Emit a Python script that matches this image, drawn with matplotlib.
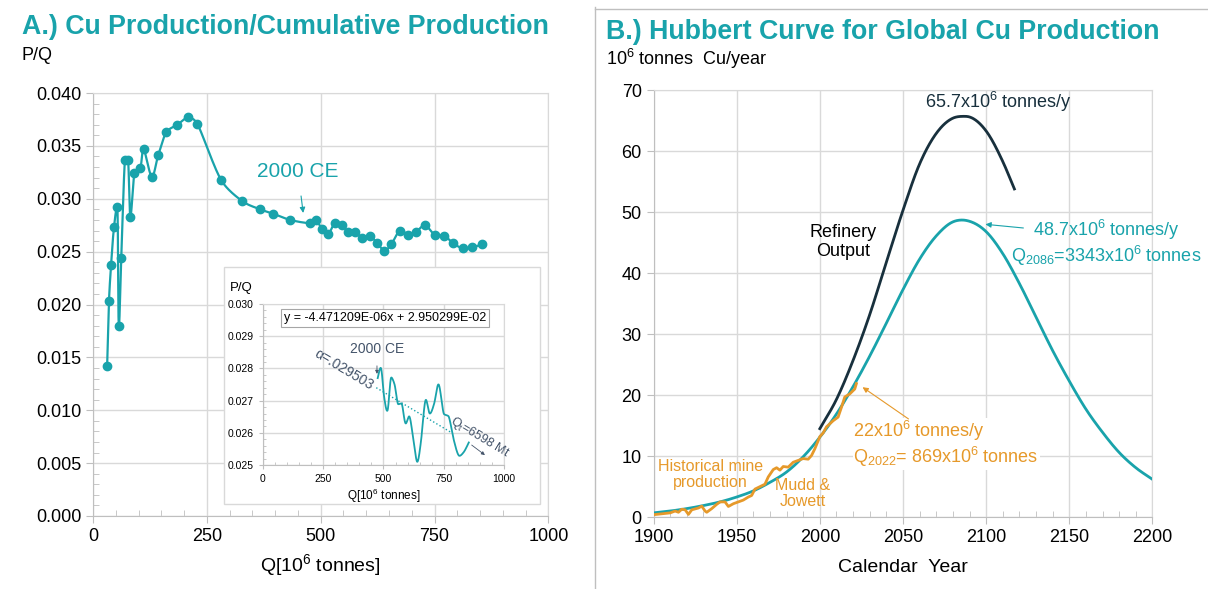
import numpy as np
import matplotlib
matplotlib.use('Agg')
import matplotlib.pyplot as plt
from matplotlib.lines import Line2D
from matplotlib.patches import Rectangle

plt.rcParams['font.family'] = ['Liberation Sans', 'DejaVu Sans']
plt.rcParams['mathtext.fontset'] = 'custom'
plt.rcParams['mathtext.rm'] = 'Liberation Sans'
plt.rcParams['mathtext.it'] = 'Liberation Sans:italic'
plt.rcParams['mathtext.bf'] = 'Liberation Sans:bold'

# --- data: panel A (P/Q vs cumulative Q) ---
q_cum = [31, 35, 39.6, 46, 53.5, 56.5, 62, 70, 77, 82, 91, 104, 111, 129, 143,
         161, 185, 209, 229, 281, 327, 367, 395, 433, 476, 490, 503, 517, 531, 546,
         560, 576, 591, 608, 624, 640, 655, 674, 692, 710, 729, 750, 771, 791, 812,
         833, 854]
p_over_q = [0.0142, 0.0203, 0.0237, 0.0273, 0.0292, 0.0180, 0.0244, 0.0337, 0.0337,
            0.0283, 0.0324, 0.0329, 0.0347, 0.0321, 0.0341, 0.0363, 0.0370, 0.0377,
            0.0371, 0.0318, 0.0298, 0.0290, 0.0286, 0.0280, 0.0277, 0.0280, 0.0271,
            0.0267, 0.0277, 0.0275, 0.0269, 0.0269, 0.0263, 0.0265, 0.0258, 0.0251,
            0.0257, 0.0270, 0.0266, 0.0269, 0.0275, 0.0266, 0.0265, 0.0258, 0.0253,
            0.0254, 0.0257]
inset_start_q = 476
trend_slope = -4.471209e-06
trend_icpt = 2.950299e-02
trend_q = [470, 780]

# --- data: panel B (Hubbert curve) ---
hub_years = [1900, 1910, 1920, 1930, 1940, 1950, 1960, 1970, 1980, 1990, 2000, 2010,
             2020, 2030, 2040, 2050, 2060, 2070, 2080, 2086, 2090, 2100, 2110, 2120,
             2130, 2140, 2150, 2160, 2170, 2180, 2190, 2200]
hub_vals = [0.7, 1.0, 1.4, 1.9, 2.5, 3.3, 4.3, 5.7, 7.4, 9.9, 13.1, 16.9, 21.4, 26.4,
            31.8, 37.3, 42.3, 46.1, 48.4, 48.7, 48.5, 46.8, 43.2, 38.3, 32.8, 27.3,
            22.3, 17.7, 13.9, 10.6, 8.1, 6.2]
ref_years = [2000, 2010, 2020, 2030, 2040, 2050, 2060, 2070, 2080, 2086, 2090, 2100,
             2110, 2117]
ref_vals = [14.5, 19.3, 25.7, 33.2, 41.8, 50.3, 57.9, 62.9, 65.4, 65.7, 65.6, 63.3,
            58.3, 53.8]
mine_years = [1900, 1905, 1910, 1913, 1915, 1917, 1919, 1921, 1923, 1927, 1929, 1931,
              1932, 1935, 1938, 1940, 1943, 1945, 1948, 1951, 1954, 1957, 1959, 1961,
              1964, 1967, 1969, 1972, 1974, 1976, 1978, 1981, 1984, 1987, 1990, 1993,
              1995, 1997, 2000, 2002, 2004, 2006, 2008, 2011, 2013, 2015, 2018, 2021,
              2022]
mine_vals = [0.4, 0.55, 0.7, 1.0, 0.8, 1.3, 1.2, 0.45, 1.2, 1.5, 1.8, 1.0, 0.8, 1.4,
             2.1, 2.5, 2.5, 1.75, 2.2, 2.5, 2.8, 3.3, 3.55, 4.6, 5.0, 5.4, 6.6, 7.8,
             8.1, 7.7, 8.3, 8.2, 9.0, 9.3, 9.6, 9.5, 10.1, 11.2, 13.2, 13.8, 14.8, 15.3,
             15.8, 16.4, 18.0, 19.7, 20.2, 21.0, 21.9]

TEAL = '#19A3AB'
NAVY = '#18303D'
ORANGE = '#E6992A'
SLATE = '#44546A'
GRID = '#D9D9D9'
AXC = '#BFBFBF'


def smooth(x, y, sx=1.0, sy=1.0, n=20):
    # excel-like smoothed line: bezier through points, control arms clamped
    p = np.column_stack([np.asarray(x, float) * sx, np.asarray(y, float) * sy])
    p = np.vstack([p[0], p, p[-1]])
    t = np.linspace(0, 1, n, endpoint=False)[:, None]
    segs = []
    for i in range(1, len(p) - 2):
        p0, p1, p2, p3 = p[i - 1], p[i], p[i + 1], p[i + 2]
        seg = np.hypot(*(p2 - p1))
        d1 = (p2 - p0) / 6
        d2 = (p3 - p1) / 6
        for d in (d1, d2):
            ln = np.hypot(*d)
            if ln > 0.35 * seg:
                d *= 0.35 * seg / ln
        c1 = p1 + d1
        c2 = p2 - d2
        segs.append((1 - t) ** 3 * p1 + 3 * (1 - t) ** 2 * t * c1
                    + 3 * (1 - t) * t ** 2 * c2 + t ** 3 * p2)
    segs.append(p[-2][None, :])
    s = np.vstack(segs)
    return s[:, 0] / sx, s[:, 1] / sy


def hermite(x, y, n=30):
    # smooth curve for series with increasing x
    x = np.asarray(x, float)
    y = np.asarray(y, float)
    m = np.gradient(y, x)
    xs, ys = [], []
    for i in range(len(x) - 1):
        h = x[i + 1] - x[i]
        t = np.linspace(0, 1, n, endpoint=False)
        h00 = 2 * t ** 3 - 3 * t ** 2 + 1
        h10 = t ** 3 - 2 * t ** 2 + t
        h01 = -2 * t ** 3 + 3 * t ** 2
        h11 = t ** 3 - t ** 2
        xs.append(x[i] + t * h)
        ys.append(h00 * y[i] + h10 * h * m[i] + h01 * y[i + 1] + h11 * h * m[i + 1])
    xs.append([x[-1]])
    ys.append([y[-1]])
    return np.concatenate(xs), np.concatenate(ys)


def style_axes(ax, fs=13):
    for side in ['top', 'right']:
        ax.spines[side].set_color(GRID)
    for side in ['left', 'bottom']:
        ax.spines[side].set_color(AXC)
    ax.grid(True, color=GRID, lw=1)
    ax.set_axisbelow(True)
    ax.tick_params(which='major', direction='out', color=AXC, length=5,
                   labelsize=fs, labelcolor='black')
    ax.tick_params(which='minor', direction='in', color=AXC, length=4)


fig = plt.figure(figsize=(12.08, 5.89), dpi=100)

# ---------------- panel A ----------------
ax1 = fig.add_axes([0.077, 0.124, 0.377, 0.718])
sx, sy = smooth(q_cum, p_over_q, sx=455 / 1000, sy=423 / 0.04)
ax1.plot(sx, sy, color=TEAL, lw=1.6, zorder=3)
ax1.plot(q_cum, p_over_q, 'o', color=TEAL, ms=6, zorder=4)
ax1.set_xlim(0, 1000)
ax1.set_ylim(0, 0.040)
ax1.set_xticks([0, 250, 500, 750, 1000])
ax1.set_yticks(np.arange(0, 0.0401, 0.005))
ax1.set_yticklabels([f'{v:.3f}' for v in np.arange(0, 0.0401, 0.005)])
ax1.set_xticks(np.arange(0, 1001, 50), minor=True)
ax1.set_yticks(np.arange(0, 0.0401, 0.001), minor=True)
style_axes(ax1)
ax1.annotate('2000 CE', xy=(461.5, 0.02866), xytext=(450, 0.0326),
             fontsize=15, color=TEAL, ha='center', va='center',
             arrowprops=dict(arrowstyle='-|>', color=TEAL, lw=0.8,
                             mutation_scale=8, shrinkA=9, shrinkB=0))

fig.text(0.0182, 0.954, 'A.) Cu Production/Cumulative Production', fontsize=19.3,
         fontweight='bold', color=TEAL, va='center')
fig.text(0.0182, 0.906, 'P/Q', fontsize=13, va='center')
fig.text(0.265, 0.041, r'Q[10$^{6}$ tonnes]', fontsize=14, ha='center', va='center')

# inset frame
fig.patches.append(Rectangle((0.1854, 0.1443), 0.2616, 0.4024, transform=fig.transFigure,
                             facecolor='white', edgecolor=GRID, lw=1, zorder=1))
axi = fig.add_axes([0.2177, 0.2105, 0.1995, 0.2733], zorder=2)
sel = [i for i, q in enumerate(q_cum) if q >= inset_start_q]
ix, iy = smooth([q_cum[i] for i in sel], [p_over_q[i] for i in sel],
                sx=241 / 1000, sy=161 / 0.005)
axi.plot(ix, iy, color=TEAL, lw=1.3, zorder=3)
tq = np.array(trend_q)
axi.plot(tq, trend_slope * tq + trend_icpt, ':', color=TEAL, lw=1, zorder=3)
axi.set_xlim(0, 1000)
axi.set_ylim(0.025, 0.030)
axi.set_xticks([0, 250, 500, 750, 1000])
axi.set_yticks(np.arange(0.025, 0.03001, 0.001))
axi.set_yticklabels([f'{v:.3f}' for v in np.arange(0.025, 0.03001, 0.001)])
axi.set_xticks(np.arange(0, 1001, 50), minor=True)
axi.set_yticks(np.arange(0.025, 0.03001, 0.0002), minor=True)
style_axes(axi, fs=7.5)
axi.tick_params(which='major', length=3)
axi.tick_params(which='minor', length=2)
axi.set_xlabel(r'Q[10$^{6}$ tonnes]', fontsize=8.5, labelpad=2)
fig.text(0.1995, 0.511, 'P/Q', fontsize=9.5, va='center', ha='center')
axi.text(506, 0.02957, 'y = -4.471209E-06x + 2.950299E-02', fontsize=9,
         ha='center', va='center',
         bbox=dict(boxstyle='square,pad=0.25', fc='white', ec='#A6A6A6', lw=0.8))
axi.annotate('2000 CE', xy=(473, 0.02783), xytext=(473, 0.0286), fontsize=10,
             color=SLATE, ha='center', va='center',
             arrowprops=dict(arrowstyle='-|>', color=SLATE, lw=0.6,
                             mutation_scale=5, shrinkA=5, shrinkB=0),
             zorder=4)
axi.text(335, 0.02797, 'α=.029503', fontsize=10, color=SLATE, rotation=-31,
         ha='center', va='center')
axi.text(900, 0.02586, r'Q$_\mathregular{t}$=6598 Mt', fontsize=9, color=SLATE,
         rotation=-31, ha='center', va='center')
axi.annotate('', xy=(921, 0.02531), xytext=(866, 0.02562),
             arrowprops=dict(arrowstyle='-|>', color=SLATE, lw=0.6,
                             mutation_scale=5, shrinkA=0, shrinkB=0))

# ---------------- panel B ----------------
ax2 = fig.add_axes([0.541, 0.122, 0.413, 0.725])
hx, hy = hermite(hub_years, hub_vals)
ax2.plot(hx, hy, color=TEAL, lw=2, zorder=3)
rx, ry = hermite(ref_years, ref_vals)
ax2.plot(rx, ry, color=NAVY, lw=2, zorder=3)
ax2.plot(mine_years, mine_vals, color=ORANGE, lw=2, zorder=4)
ax2.set_xlim(1900, 2200)
ax2.set_ylim(0, 70)
ax2.set_xticks(np.arange(1900, 2201, 50))
ax2.set_yticks(np.arange(0, 71, 10))
ax2.set_xticks(np.arange(1900, 2201, 10), minor=True)
style_axes(ax2)

ax2.text(2107.4, 68.0, r'65.7x10$^{6}$ tonnes/y', fontsize=13, color=NAVY,
         ha='center', va='center')
ax2.text(2014.2, 45.1, 'Refinery\nOutput', fontsize=13, color='black',
         ha='center', va='center', linespacing=1.2)
ax2.text(2172.3, 44.9, '48.7x10$^{6}$ tonnes/y\nQ$_{2086}$=3343x10$^{6}$ tonnes',
         fontsize=13, color=TEAL, ha='center', va='center', linespacing=1.1)
ax2.annotate('', xy=(2099.6, 48.0), xytext=(2122.4, 47.4),
             arrowprops=dict(arrowstyle='-|>', color=TEAL, lw=0.8,
                             mutation_scale=8, shrinkA=0, shrinkB=0))
ax2.text(2020.2, 12.0, '22x10$^{6}$ tonnes/y\nQ$_{2022}$= 869x10$^{6}$ tonnes',
         fontsize=13, color=ORANGE, ha='left', va='center', linespacing=1.1,
         bbox=dict(fc='white', ec='none', pad=0.5))
ax2.annotate('', xy=(2025.7, 21.3), xytext=(2053.3, 16.1),
             arrowprops=dict(arrowstyle='-|>', color=ORANGE, lw=0.8,
                             mutation_scale=8, shrinkA=0, shrinkB=0))
ax2.text(1934.3, 7.0, 'Historical mine\nproduction', fontsize=11.5, color=ORANGE,
         ha='center', va='center', linespacing=1.05)
ax2.text(1989.6, 3.9, 'Mudd &\nJowett', fontsize=11.5, color=ORANGE,
         ha='center', va='center', linespacing=1.05)

fig.text(0.5017, 0.9457, 'B.) Hubbert Curve for Global Cu Production', fontsize=19.3,
         fontweight='bold', color=TEAL, va='center')
fig.text(0.5017, 0.900, r'10$^{6}$ tonnes  Cu/year', fontsize=13, va='center')
fig.text(0.7475, 0.037, 'Calendar  Year', fontsize=14, ha='center', va='center')

# panel separators
fig.add_artist(Line2D([0.4925, 0.4925], [0.0, 0.988], color=AXC, lw=1))
fig.add_artist(Line2D([0.4925, 1.0], [0.985, 0.985], color=AXC, lw=1))

fig.savefig('out.png', dpi=100)
